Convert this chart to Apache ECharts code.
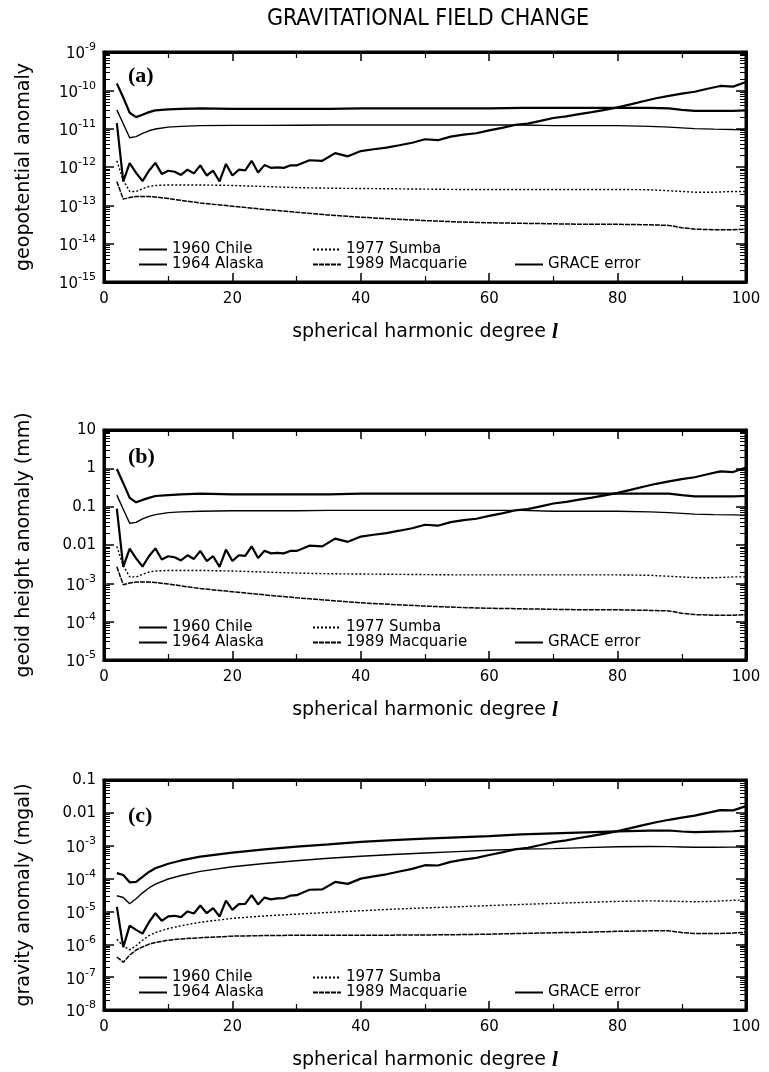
<!DOCTYPE html>
<html><head><meta charset="utf-8">
<script src="https://cdn.jsdelivr.net/npm/echarts@6/dist/echarts.min.js"></script>
<style>html,body{margin:0;padding:0;background:#fff}#c{width:769px;height:1072px}</style>
</head><body><div id="c"></div>
<script>
// ---------------- DATA ----------------
const degS = [2,3,4,5,6,7,8,10,12,15,20,25,30,35,40,45,50,55,60,65,70,75,80,85,88,90,92,95,98,100];
const degG = [2,3,4,5,6,7,8,9,10,11,12,13,14,15,16,17,18,19,20,21,22,23,24,25,26,27,28,29,30,
  32,34,36,38,40,42,44,46,48,50,52,54,56,58,60,62,64,66,68,70,72,74,76,78,80,82,84,86,88,90,92,94,96,98,100];

// (a) geopotential anomaly
const chileA = [1.5e-10,6.5e-11,2.6e-11,2.0e-11,2.3e-11,2.7e-11,3.0e-11,3.2e-11,3.3e-11,3.4e-11,3.3e-11,3.3e-11,3.3e-11,3.3e-11,3.4e-11,3.4e-11,3.4e-11,3.4e-11,3.4e-11,3.5e-11,3.5e-11,3.5e-11,3.5e-11,3.5e-11,3.4e-11,3.1e-11,2.9e-11,2.9e-11,2.9e-11,3.0e-11];
const alaskaA = [3.1e-11,1.35e-11,5.8e-12,6.2e-12,7.5e-12,8.8e-12,9.8e-12,1.1e-11,1.15e-11,1.2e-11,1.22e-11,1.22e-11,1.23e-11,1.25e-11,1.25e-11,1.25e-11,1.25e-11,1.25e-11,1.25e-11,1.25e-11,1.2e-11,1.2e-11,1.2e-11,1.15e-11,1.1e-11,1.05e-11,1.0e-11,9.7e-12,9.5e-12,9.4e-12];
const sumbaA = [1.45e-12,4.5e-13,2.3e-13,2.3e-13,2.7e-13,3.1e-13,3.3e-13,3.4e-13,3.4e-13,3.4e-13,3.3e-13,3.1e-13,2.9e-13,2.8e-13,2.75e-13,2.7e-13,2.65e-13,2.6e-13,2.6e-13,2.6e-13,2.6e-13,2.6e-13,2.6e-13,2.55e-13,2.4e-13,2.3e-13,2.2e-13,2.2e-13,2.3e-13,2.3e-13];
const macqA = [4.2e-13,1.45e-13,1.6e-13,1.7e-13,1.7e-13,1.7e-13,1.65e-13,1.5e-13,1.35e-13,1.15e-13,9.5e-14,7.8e-14,6.6e-14,5.6e-14,4.9e-14,4.4e-14,4.0e-14,3.7e-14,3.5e-14,3.4e-14,3.3e-14,3.2e-14,3.2e-14,3.1e-14,3.0e-14,2.6e-14,2.4e-14,2.3e-14,2.3e-14,2.4e-14];
const graceA = [1.4e-11,4.2e-13,1.26e-12,7.0e-13,4.3e-13,8.0e-13,1.28e-12,6.6e-13,8.0e-13,7.5e-13,6.2e-13,8.5e-13,6.8e-13,1.1e-12,6.0e-13,8.0e-13,4.2e-13,1.2e-12,6.0e-13,8.5e-13,8.2e-13,1.45e-12,7.2e-13,1.12e-12,9.5e-13,9.8e-13,9.5e-13,1.1e-12,1.1e-12,
  1.5e-12,1.45e-12,2.3e-12,1.9e-12,2.6e-12,2.9e-12,3.2e-12,3.7e-12,4.3e-12,5.3e-12,5.0e-12,6.2e-12,7.0e-12,7.6e-12,9.0e-12,1.05e-11,1.25e-11,1.35e-11,1.6e-11,1.9e-11,2.1e-11,2.4e-11,2.7e-11,3.1e-11,3.6e-11,4.3e-11,5.2e-11,6.2e-11,7.2e-11,8.2e-11,9.2e-11,1.1e-10,1.3e-10,1.25e-10,1.65e-10];

// (b) geoid height anomaly (mm)
const chileB = [0.96,0.41,0.17,0.13,0.15,0.17,0.19,0.20,0.21,0.22,0.21,0.21,0.21,0.21,0.22,0.22,0.22,0.22,0.22,0.22,0.22,0.22,0.22,0.22,0.22,0.20,0.185,0.185,0.185,0.19];
const alaskaB = [0.20,0.086,0.037,0.039,0.048,0.056,0.062,0.070,0.073,0.076,0.078,0.078,0.078,0.080,0.080,0.080,0.080,0.080,0.080,0.080,0.076,0.076,0.076,0.073,0.070,0.067,0.064,0.062,0.061,0.060];
const sumbaB = [9.2e-3,2.9e-3,1.47e-3,1.47e-3,1.72e-3,1.97e-3,2.1e-3,2.17e-3,2.17e-3,2.17e-3,2.1e-3,1.97e-3,1.85e-3,1.78e-3,1.75e-3,1.72e-3,1.69e-3,1.66e-3,1.66e-3,1.66e-3,1.66e-3,1.66e-3,1.66e-3,1.62e-3,1.53e-3,1.47e-3,1.40e-3,1.40e-3,1.47e-3,1.47e-3];
const macqB = [2.7e-3,9.2e-4,1.02e-3,1.08e-3,1.08e-3,1.08e-3,1.05e-3,9.6e-4,8.6e-4,7.3e-4,6.05e-4,5.0e-4,4.2e-4,3.6e-4,3.1e-4,2.8e-4,2.55e-4,2.36e-4,2.23e-4,2.17e-4,2.1e-4,2.04e-4,2.04e-4,1.97e-4,1.91e-4,1.66e-4,1.53e-4,1.47e-4,1.47e-4,1.53e-4];
const graceB = [0.089,2.68e-3,8.0e-3,4.46e-3,2.74e-3,5.1e-3,8.15e-3,4.2e-3,5.1e-3,4.78e-3,3.95e-3,5.4e-3,4.33e-3,7.0e-3,3.82e-3,5.1e-3,2.68e-3,7.6e-3,3.82e-3,5.4e-3,5.2e-3,9.2e-3,4.6e-3,7.1e-3,6.05e-3,6.2e-3,6.05e-3,7.0e-3,7.0e-3,
  9.6e-3,9.2e-3,0.0147,0.0121,0.0166,0.0185,0.0204,0.0236,0.0274,0.0338,0.0319,0.0395,0.0446,0.0484,0.0573,0.0669,0.0796,0.086,0.102,0.121,0.134,0.153,0.172,0.197,0.229,0.274,0.331,0.395,0.459,0.522,0.586,0.70,0.83,0.80,1.05];

// (c) gravity anomaly (mgal)
const chileC = [1.47e-4,1.28e-4,7.7e-5,7.9e-5,1.13e-4,1.59e-4,2.06e-4,2.83e-4,3.56e-4,4.68e-4,6.16e-4,7.78e-4,9.4e-4,1.10e-3,1.30e-3,1.47e-3,1.64e-3,1.80e-3,1.97e-3,2.20e-3,2.37e-3,2.54e-3,2.72e-3,2.89e-3,2.90e-3,2.71e-3,2.59e-3,2.68e-3,2.76e-3,2.92e-3];
const alaskaC = [3.0e-5,2.65e-5,1.71e-5,2.44e-5,3.68e-5,5.18e-5,6.74e-5,9.72e-5,1.24e-4,1.65e-4,2.28e-4,2.88e-4,3.50e-4,4.17e-4,4.79e-4,5.40e-4,6.02e-4,6.63e-4,7.24e-4,7.86e-4,8.13e-4,8.72e-4,9.31e-4,9.49e-4,9.40e-4,9.18e-4,8.94e-4,8.95e-4,9.05e-4,9.14e-4];
const sumbaC = [1.42e-6,8.8e-7,6.8e-7,9.0e-7,1.33e-6,1.83e-6,2.27e-6,3.0e-6,3.67e-6,4.68e-6,6.16e-6,7.31e-6,8.26e-6,9.35e-6,1.05e-5,1.17e-5,1.28e-5,1.38e-5,1.51e-5,1.63e-5,1.76e-5,1.89e-5,2.02e-5,2.10e-5,2.05e-5,2.01e-5,1.97e-5,2.03e-5,2.19e-5,2.24e-5];
const macqC = [4.1e-7,2.85e-7,4.7e-7,6.7e-7,8.3e-7,1.0e-6,1.13e-6,1.33e-6,1.46e-6,1.58e-6,1.77e-6,1.84e-6,1.88e-6,1.87e-6,1.88e-6,1.90e-6,1.92e-6,1.96e-6,2.03e-6,2.14e-6,2.24e-6,2.33e-6,2.48e-6,2.56e-6,2.56e-6,2.27e-6,2.14e-6,2.12e-6,2.19e-6,2.33e-6];
const graceC = [1.37e-5,8.2e-7,3.71e-6,2.75e-6,2.11e-6,4.71e-6,8.8e-6,5.18e-6,7.07e-6,7.37e-6,6.70e-6,1.0e-5,8.68e-6,1.51e-5,8.84e-6,1.26e-5,7.0e-6,2.12e-5,1.12e-5,1.67e-5,1.69e-5,3.13e-5,1.63e-5,2.64e-5,2.33e-5,2.50e-5,2.52e-5,3.02e-5,3.13e-5,
  4.57e-5,4.70e-5,7.9e-5,6.9e-5,9.96e-5,1.17e-4,1.35e-4,1.64e-4,1.98e-4,2.55e-4,2.50e-4,3.23e-4,3.78e-4,4.25e-4,5.21e-4,6.29e-4,7.73e-4,8.62e-4,1.05e-3,1.29e-3,1.46e-3,1.72e-3,1.99e-3,2.34e-3,2.79e-3,3.42e-3,4.24e-3,5.18e-3,6.15e-3,7.17e-3,8.22e-3,1.0e-2,1.21e-2,1.19e-2,1.60e-2];

const seriesNames = ['1960 Chile','1964 Alaska','1977 Sumba','1989 Macquarie','GRACE error'];
const yNames = ['geopotential anomaly','geoid height anomaly (mm)','gravity anomaly (mgal)'];
const yMins = [1e-15, 1e-5, 1e-8];
const yMaxs = [1e-9, 10, 0.1];
const panelTags = ['(a)','(b)','(c)'];
const xTitle = 'spherical harmonic degree ';
const plainTickLabels = {'1':'10','0':'1','-1':'0.1','-2':'0.01'};
const titleText = 'GRAVITATIONAL FIELD CHANGE';

// ---------------- LAYOUT / STYLE ----------------
const FONT = 'DejaVu Sans';
const panelTop = [52, 430, 780];
const panelH = 230;
const gridLeft = 104, gridRight = 23;
const tagY = [77, 458, 817];
const legendCols = [138, 312, 514];
const legendRows = [-32, -17];
const legendSlots = [
  {name:'1960 Chile', col:0, row:0},
  {name:'1977 Sumba', col:1, row:0},
  {name:'1964 Alaska', col:0, row:1},
  {name:'1989 Macquarie', col:1, row:1},
  {name:'GRACE error', col:2, row:1}
];
const lineStyles = {
  '1960 Chile': {width:2.2, type:'solid'},
  '1964 Alaska': {width:1.4, type:'solid'},
  '1977 Sumba': {width:1.4, type:[2,2]},
  '1989 Macquarie': {width:1.5, type:[5,1]},
  'GRACE error': {width:2.2, type:'solid'}
};
const seriesSets = [
  {deg: degS, vals:[chileA, chileB, chileC]},
  {deg: degS, vals:[alaskaA, alaskaB, alaskaC]},
  {deg: degS, vals:[sumbaA, sumbaB, sumbaC]},
  {deg: degS, vals:[macqA, macqB, macqC]},
  {deg: degG, vals:[graceA, graceB, graceC]}
];

function yFmt(v){
  const e = Math.round(Math.log10(v));
  if (plainTickLabels[String(e)] !== undefined) return '{p|' + plainTickLabels[String(e)] + '}';
  return '{b|10}{s|' + (e < 0 ? '-' : '') + Math.abs(e) + '}';
}

const grids = [], xAxes = [], yAxes = [], series = [], legends = [], graphics = [];
for (let i = 0; i < 3; i++) {
  grids.push({left: gridLeft, right: gridRight, top: panelTop[i], height: panelH,
    show: true, borderColor: '#000', borderWidth: 3, backgroundColor: 'transparent'});
  for (const top of [false, true]) {
    xAxes.push({
      type: 'value', gridIndex: i, min: 0, max: 100, interval: 20,
      position: top ? 'top' : 'bottom',
      axisLine: {show: true, onZero: false, lineStyle: {color: '#000', width: 3}},
      axisTick: {show: true, inside: true, length: 9, lineStyle: {color: '#000', width: 1.5}},
      minorTick: {show: true, splitNumber: 2, length: 6, lineStyle: {color: '#000', width: 1.2}},
      splitLine: {show: false}, minorSplitLine: {show: false},
      axisLabel: {show: !top, margin: 10, color: '#000', fontFamily: FONT, fontSize: 15},
      name: top ? '' : '{n|' + xTitle + '}{l|l}',
      nameLocation: 'middle', nameGap: 40,
      nameTextStyle: {rich: {
        n: {fontFamily: FONT, fontSize: 19, color: '#000'},
        l: {fontFamily: 'Liberation Serif', fontStyle: 'italic', fontWeight: 'bold', fontSize: 21, color: '#000'}
      }}
    });
  }
  for (const right of [false, true]) {
    yAxes.push({
      type: 'log', logBase: 10, gridIndex: i, min: yMins[i], max: yMaxs[i], interval: 1,
      position: right ? 'right' : 'left',
      axisLine: {show: true, onZero: false, lineStyle: {color: '#000', width: 3}},
      axisTick: {show: true, inside: true, length: 10, lineStyle: {color: '#000', width: 1.5}},
      minorTick: {show: true, splitNumber: 9, length: 6, lineStyle: {color: '#000', width: 1}},
      splitLine: {show: false}, minorSplitLine: {show: false},
      axisLabel: {show: !right, margin: 8, formatter: yFmt, rich: {
        p: {fontFamily: FONT, fontSize: 15, color: '#000'},
        b: {fontFamily: FONT, fontSize: 15, lineHeight: 20, verticalAlign: 'bottom', color: '#000'},
        s: {fontFamily: FONT, fontSize: 11, lineHeight: 20, verticalAlign: 'top', color: '#000'}
      }},
      name: right ? '' : yNames[i], nameLocation: 'middle', nameRotate: 90, nameGap: 70,
      nameTextStyle: {fontFamily: FONT, fontSize: 19, color: '#000'}
    });
  }
  seriesNames.forEach((nm, k) => {
    const set = seriesSets[k];
    series.push({
      type: 'line', name: nm, xAxisIndex: 2*i, yAxisIndex: 2*i,
      data: set.deg.map((d, j) => [d, set.vals[i][j]]),
      symbol: 'none', showSymbol: false, animation: false, clip: true,
      lineStyle: {color: '#000', width: lineStyles[nm].width, type: lineStyles[nm].type},
      itemStyle: {color: '#000'}
    });
  });
  const bottom = panelTop[i] + panelH;
  legendSlots.forEach(sl => {
    legends.push({
      data: [sl.name], left: legendCols[sl.col], top: bottom + legendRows[sl.row] - 8,
      padding: 0, itemWidth: 28, itemHeight: 12, itemGap: 0, selectedMode: false,
      itemStyle: {color: 'rgba(0,0,0,0)', borderColor: 'rgba(0,0,0,0)', borderWidth: 0, opacity: 0},
      textStyle: {fontFamily: FONT, fontSize: 15, color: '#000'}
    });
  });
  graphics.push({type: 'text', left: 128, top: tagY[i] - 12,
    style: {text: panelTags[i], fontFamily: 'Liberation Serif', fontWeight: 'bold', fontSize: 22, fill: '#000'}});
}
graphics.push({type: 'text', x: 428, y: 19,
  style: {text: titleText, fontFamily: 'Liberation Sans Narrow, DejaVu Sans Condensed, DejaVu Sans', fontSize: 23,
    fill: '#000', textAlign: 'center', textVerticalAlign: 'middle'}});

const chart = echarts.init(document.getElementById('c'));
chart.setOption({
  backgroundColor: '#fff', animation: false,
  grid: grids, xAxis: xAxes, yAxis: yAxes, series: series, legend: legends, graphic: graphics
});
</script></body></html>
